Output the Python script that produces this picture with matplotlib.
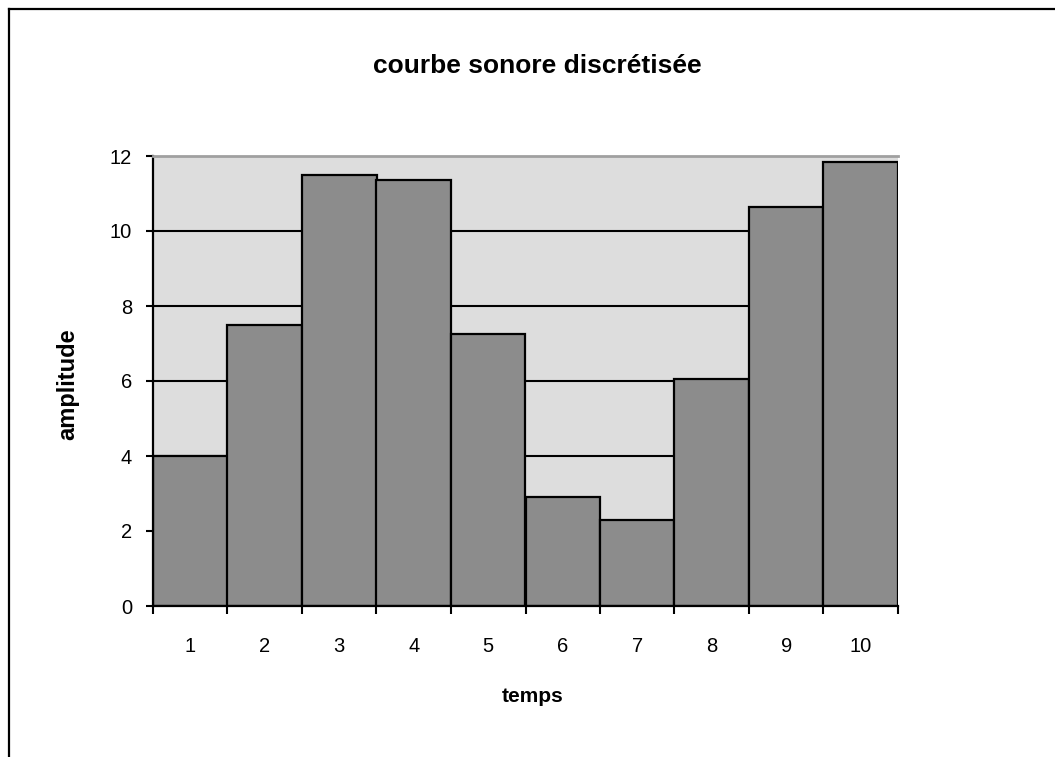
import matplotlib
matplotlib.use("Agg")
import matplotlib.pyplot as plt
from matplotlib.lines import Line2D
import numpy as np

plt.rcParams['font.family'] = ['Liberation Sans', 'DejaVu Sans']

# données
temps = [1, 2, 3, 4, 5, 6, 7, 8, 9, 10]
amplitude = [4.0, 7.5, 11.5, 11.35, 7.25, 2.9, 2.3, 6.05, 10.65, 11.85]
yticks = [0, 2, 4, 6, 8, 10, 12]

fig = plt.figure(figsize=(10.55, 7.57), dpi=100)
ax = fig.add_axes([153 / 1055, 1 - 606 / 757, 745 / 1055, 450 / 757])
ax.set_facecolor('#dddddd')

# grille horizontale noire sous les barres
for v in yticks[1:-1]:
    ax.axhline(v, color='black', lw=1.5, zorder=1)

ax.bar(temps, amplitude, width=1.0, color='#8c8c8c', edgecolor='black',
       linewidth=1.6, zorder=2)

ax.set_xlim(0.5, 10.5)
ax.set_ylim(0, 12)

ax.spines['right'].set_visible(False)
ax.spines['top'].set_color('#a0a0a0')
ax.spines['top'].set_linewidth(2)
ax.spines['left'].set_linewidth(1.6)
ax.spines['bottom'].set_linewidth(1.6)

ax.set_yticks(yticks)
ax.tick_params(axis='y', direction='out', length=5, width=1.5,
               labelsize=14.5, pad=10)

# graduations entre les catégories, étiquettes au centre
ax.set_xticks(np.arange(0.5, 11, 1.0))
ax.set_xticklabels([])
ax.set_xticks(temps, minor=True)
ax.set_xticklabels([str(t) for t in temps], minor=True)
ax.tick_params(axis='x', which='major', direction='out', length=6, width=1.5)
ax.tick_params(axis='x', which='minor', length=0, labelsize=14.5, pad=22)

# titres placés en pixels de la figure d'origine
ax.text((537 - 153) / 745, (606 - 66) / 450, 'courbe sonore discrétisée',
        transform=ax.transAxes, ha='center', va='center',
        fontsize=19, fontweight='bold')
ax.text((533 - 153) / 745, -(697 - 606) / 450, 'temps',
        transform=ax.transAxes, ha='center', va='center',
        fontsize=15, fontweight='bold')
ax.text((68 - 153) / 745, (606 - 384) / 450, 'amplitude',
        transform=ax.transAxes, ha='center', va='center', rotation=90,
        fontsize=17, fontweight='bold')

# cadre extérieur (gauche et haut)
fig.add_artist(Line2D([8.5 / 1055, 8.5 / 1055], [0, 1 - 8.5 / 757],
                      transform=fig.transFigure, color='black', lw=1.6))
fig.add_artist(Line2D([8.5 / 1055, 1], [1 - 8.5 / 757, 1 - 8.5 / 757],
                      transform=fig.transFigure, color='black', lw=1.6))

fig.savefig('out.png', dpi=100)
